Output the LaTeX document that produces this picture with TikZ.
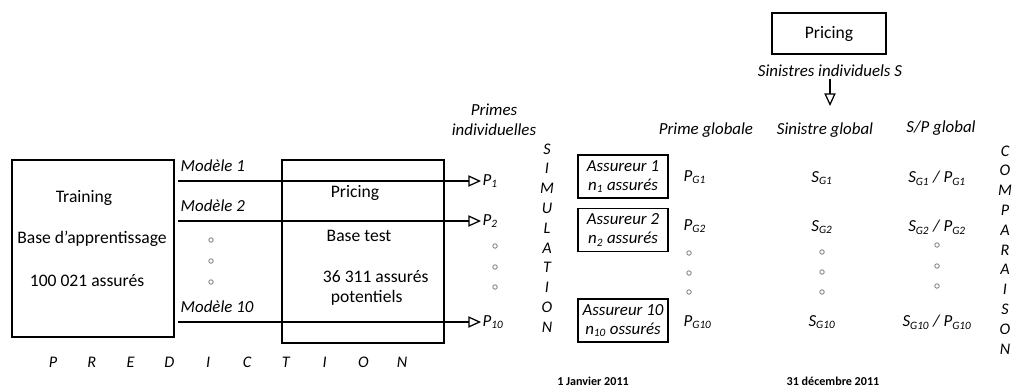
\documentclass[tikz,border=0pt]{standalone}
\usepackage{fontspec}
\setmainfont{Carlito}
\usetikzlibrary{arrows.meta}

\newcommand{\idx}[2]{\textit{#1\textsubscript{#2}}}

\tikzset{
  box/.style={draw, line width=1.1pt, inner sep=0pt},
  body/.style={font=\fontsize{12.5}{15}\selectfont},
  flow/.style={line width=0.9pt, -{Triangle[open, length=9pt, width=8pt, line width=0.9pt]}},
  lbl/.style={font=\itshape\fontsize{12}{14}\selectfont, inner sep=1pt},
  letter/.style={font=\itshape\fontsize{11.5}{14}\selectfont, inner sep=0pt},
  dot/.style={circle, draw=gray, line width=0.6pt, minimum size=3.2pt, inner sep=0pt},
  date/.style={font=\bfseries\fontsize{8.6}{10}\selectfont, inner sep=0pt},
}

\begin{document}
\begin{tikzpicture}[x=0.025cm, y=-0.025cm]
  \useasboundingbox (0,0) rectangle (1016,389);

  % training base
  \node[box, minimum width=4.05cm, minimum height=4.425cm] (train) at (93,248.5) {};
  \node[body] (traintitle) at (84,198) {Training};
  \node[body] (trainbase) at (92,239) {Base d'apprentissage};
  \node[body] (trainsize) at (87,281) {100 021 assurés};

  % test base
  \node[box, minimum width=4.05cm, minimum height=4.575cm] (test) at (363,251.5) {};
  \node[body] (testtitle) at (355,193) {Pricing};
  \node[body] (testbase) at (359,236) {Base test};
  \node[body, anchor=west] (testsize) at (318,277) {36 311 assurés};
  \node[body, anchor=west] (testpot) at (326,298) {potentiels};

  % models and individual premiums
  \foreach \y/\k in {181/1, 221/2, 322/10} {
    \coordinate (m\k) at (178,\y);
    \node[lbl, anchor=west] (p\k) at (481,\y) {\idx{P}{\k}};
    \node[lbl, anchor=base west] (mod\k) at (179,\y-10) {Modèle \k};
    \draw[flow] (m\k) -- (p\k.west);
  }
  \foreach \y [count=\i] in {240,261,282} \node[dot] (mdot\i) at (211,\y) {};
  \foreach \y [count=\i] in {246,267,287} \node[dot] (pdot\i) at (495,\y) {};
  \node[lbl, align=center] (primes) at (494,120) {Primes\\individuelles};

  % simulation
  \foreach \l [count=\i from 0] in {S,I,M,U,L,A,T,I,O,N}
    \node[letter] (sim\i) at (547,149+19.8*\i) {\l};
  \foreach \y/\k/\w in {176.5/1/assurés, 230/2/assurés, 320.5/10/ossurés}
    \node[box, minimum width=2.25cm, minimum height=1.075cm, align=center,
          font=\itshape\fontsize{12}{13.5}\selectfont] (ass\k) at (623,\y)
      {Assureur \k\\\idx{n}{\k} \w};

  % global premiums
  \node[lbl] (pglob) at (706,130) {Prime globale};
  \foreach \y/\k in {177/1, 226/2, 322/10}
    \node[lbl, anchor=west] (pg\k) at (682,\y) {\idx{P}{G\k}};
  \foreach \y [count=\i] in {253,273,292} \node[dot] (pgdot\i) at (689,\y) {};

  % claims
  \node[box, body, minimum width=2.85cm, minimum height=1.025cm] (claimprice) at (829,33.5) {Pricing};
  \node[lbl] (sinind) at (830,71) {Sinistres individuels S};
  \coordinate (sinarr) at (830,106);
  \draw[flow] (sinind.south -| sinarr) -- (sinarr);
  \node[lbl] (singlob) at (825,130) {Sinistre global};
  \foreach \y/\k in {178/1, 227/2, 322/10}
    \node[lbl] (sg\k) at (822,\y) {\idx{S}{G\k}};
  \foreach \y [count=\i] in {252,272,292} \node[dot] (sgdot\i) at (822,\y) {};

  % loss ratios
  \node[lbl] (spglob) at (941,128) {S/P global};
  \foreach \y/\k in {178/1, 227/2, 322/10}
    \node[lbl] (sp\k) at (937,\y) {\idx{S}{G\k} / \idx{P}{G\k}};
  \foreach \y [count=\i] in {245,266,286} \node[dot] (spdot\i) at (937,\y) {};

  % comparison
  \foreach \l [count=\i from 0] in {C,O,M,P,A,R,A,I,S,O,N}
    \node[letter] (comp\i) at (1005,151+19.8*\i) {\l};

  % prediction
  \foreach \l [count=\i from 0] in {P,R,E,D,I,C,T,I,O,N}
    \node[letter] (pred\i) at (53+38.8*\i,362) {\l};

  % dates
  \node[date] (start) at (593,381) {1 Janvier 2011};
  \node[date] (end) at (833,381) {31 décembre 2011};
\end{tikzpicture}
\end{document}
